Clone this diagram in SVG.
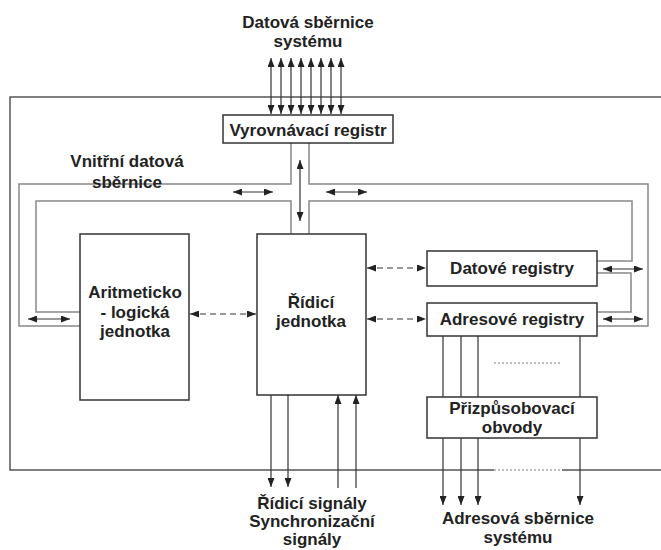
<svg xmlns="http://www.w3.org/2000/svg" width="661" height="550" viewBox="0 0 661 550">
  <style>
    .t { font-family: "Liberation Sans", Arial, sans-serif; font-weight: bold; font-size: 17px; fill: #222; text-anchor: middle; }
    .box { fill: #fff; stroke: #333; stroke-width: 1.5; }
    .frame { fill: none; stroke: #555; stroke-width: 1.5; }
    .bus { fill: none; stroke: #888; stroke-width: 1.5; }
    .wire { fill: none; stroke: #333; stroke-width: 1.2; }
    .dash { fill: none; stroke: #333; stroke-width: 1.2; stroke-dasharray: 6 4; }
    .dots { fill: none; stroke: #aaa; stroke-width: 1.5; stroke-dasharray: 2 2; }
    .both { marker-start: url(#ah); marker-end: url(#ah); }
    .end { marker-end: url(#ah); }
  </style>
  <defs>
    <marker id="ah" markerUnits="userSpaceOnUse" markerWidth="9" markerHeight="7" refX="9" refY="3.5" orient="auto-start-reverse">
      <path d="M0,0 L9,3.5 L0,7 z" fill="#222"/>
    </marker>
  </defs>

  <!-- processor frame -->
  <g id="frame">
    <path class="frame" d="M670,97 H10 V470 H494"/>
    <path class="frame" d="M562,470 H670"/>
    <path class="dots" d="M494,470 H562"/>
  </g>

  <!-- internal data bus outline -->
  <g id="bus">
    <path class="bus" d="M291,143 V184 H19 V326 H80"/>
    <path class="bus" d="M309,143 V184 H648 V326 H597"/>
    <path class="bus" d="M291,234 V201 H36 V312 H80"/>
    <path class="bus" d="M309,234 V201 H632 V261 H597"/>
    <path class="bus" d="M597,273 H631 V312 H597"/>
  </g>

  <g id="connectors">
    <!-- system data bus -->
    <path class="wire both" d="M271,58 V114"/>
    <path class="wire both" d="M281,58 V114"/>
    <path class="wire both" d="M291,58 V114"/>
    <path class="wire both" d="M301,58 V114"/>
    <path class="wire both" d="M311,58 V114"/>
    <path class="wire both" d="M321,58 V114"/>
    <path class="wire both" d="M331,58 V114"/>
    <path class="wire both" d="M341,58 V114"/>
    <!-- bus direction arrows -->
    <path class="wire both" d="M300,160 V221"/>
    <path class="wire both" d="M233,192 H273"/>
    <path class="wire both" d="M326,192 H367"/>
    <path class="wire both" d="M28,319 H70"/>
    <path class="wire both" d="M603,269 H643"/>
    <path class="wire both" d="M603,319 H643"/>
    <!-- control links -->
    <path class="dash both" d="M190,314 H256"/>
    <path class="dash both" d="M367,268 H426"/>
    <path class="dash both" d="M367,319 H426"/>
    <!-- control and sync signals -->
    <path class="wire end" d="M271,395 V487"/>
    <path class="wire end" d="M288,395 V487"/>
    <path class="wire end" d="M338,488 V395"/>
    <path class="wire end" d="M356,488 V395"/>
    <!-- address lines -->
    <path class="wire" d="M443,336 V397 M461,336 V397 M478,336 V397 M580,336 V397"/>
    <path class="dots" d="M494,363 H562"/>
    <path class="wire end" d="M443,438 V505"/>
    <path class="wire end" d="M461,438 V505"/>
    <path class="wire end" d="M478,438 V505"/>
    <path class="wire end" d="M580,438 V505"/>
  </g>

  <g id="buffer">
    <rect class="box" x="223" y="115" width="170" height="28"/>
    <text class="t" x="308" y="136">Vyrovnávací registr</text>
  </g>
  <g id="alu">
    <rect class="box" x="80" y="234" width="109" height="166"/>
    <text class="t" x="135" y="298">Aritmeticko</text>
    <text class="t" x="135" y="318">- logická</text>
    <text class="t" x="135" y="337">jednotka</text>
  </g>
  <g id="control">
    <rect class="box" x="257" y="234" width="109" height="161"/>
    <text class="t" x="311" y="308">Řídicí</text>
    <text class="t" x="311" y="327">jednotka</text>
  </g>
  <g id="data-regs">
    <rect class="box" x="427" y="251" width="170" height="35"/>
    <text class="t" x="512" y="274">Datové registry</text>
  </g>
  <g id="addr-regs">
    <rect class="box" x="427" y="303" width="170" height="33"/>
    <text class="t" x="512" y="325">Adresové registry</text>
  </g>
  <g id="adapter">
    <rect class="box" x="427" y="397" width="170" height="41"/>
    <text class="t" x="512" y="414">Přizpůsobovací</text>
    <text class="t" x="512" y="433">obvody</text>
  </g>

  <g id="labels">
    <text class="t" x="308" y="28">Datová sběrnice</text>
    <text class="t" x="308" y="47">systému</text>
    <text class="t" x="127" y="167">Vnitřní datová</text>
    <text class="t" x="127" y="188">sběrnice</text>
    <text class="t" x="312" y="509">Řídicí signály</text>
    <text class="t" x="312" y="527">Synchronizační</text>
    <text class="t" x="312" y="545">signály</text>
    <text class="t" x="518" y="524">Adresová sběrnice</text>
    <text class="t" x="518" y="543">systému</text>
  </g>
</svg>
